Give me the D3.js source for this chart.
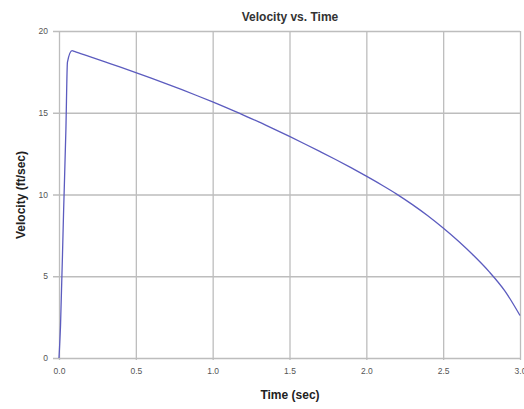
<!DOCTYPE html>
<html>
<head>
<meta charset="utf-8">
<script src="https://cdn.jsdelivr.net/npm/d3@7"></script>
<style>
  body { margin: 0; background: #fff; }
  svg text { font-family: "Liberation Sans", Arial, sans-serif; }
  .tick text { fill: #555; font-size: 8.5px; }
  .tick line { stroke: #bdbdbd; stroke-width: 1.3; }
</style>
</head>
<body>
<svg id="chart" width="524" height="409"></svg>
<script>
// time (sec) and velocity (ft/sec)
const times = [0, 0.01, 0.03, 0.045, 0.055, 0.085, 0.1, 0.2, 0.3, 0.4, 0.5, 0.6, 0.7, 0.8, 0.9, 1.0,
    1.1, 1.2, 1.3, 1.4, 1.5, 1.6, 1.7, 1.8, 1.9, 2.0, 2.1, 2.2, 2.3, 2.4, 2.5, 2.6, 2.7, 2.8, 2.9, 3.0];
const velocities = [0, 2, 9, 14, 18.1, 18.8, 18.75, 18.43, 18.11, 17.79, 17.46, 17.12, 16.77, 16.41, 16.04, 15.66,
    15.27, 14.86, 14.44, 14.0, 13.55, 13.09, 12.62, 12.14, 11.64, 11.12, 10.58, 10.01, 9.38, 8.7, 7.95, 7.14, 6.25, 5.27, 4.12, 2.6];
const xTicks = [0, 0.5, 1.0, 1.5, 2.0, 2.5, 3.0];
const yTicks = [0, 5, 10, 15, 20];

const data = times.map((t, i) => ({ t: t, v: velocities[i] }));

const svg = d3.select('#chart');
const width = +svg.attr('width');
const height = +svg.attr('height');
const margin = { top: 31, right: 3, bottom: 50, left: 59 };
const innerWidth = width - margin.left - margin.right;
const innerHeight = height - margin.top - margin.bottom;

const xScale = d3.scaleLinear()
    .domain([0, 3])
    .range([0, innerWidth - 1]);

const yScale = d3.scaleLinear()
    .domain([0, 20])
    .range([innerHeight - 1, 0]);

const g = svg.append('g')
    .attr('transform', `translate(${margin.left}, ${margin.top})`);

// grid + axes
const yAxisG = g.append('g')
    .call(d3.axisLeft(yScale)
        .tickValues(yTicks)
        .tickFormat(d3.format('d'))
        .tickSizeInner(-(innerWidth - 1))
        .tickSizeOuter(0)
        .tickPadding(11));
yAxisG.select('.domain').remove();
yAxisG.selectAll('.tick line').attr('x1', -6);

const xAxisG = g.append('g')
    .attr('transform', `translate(0, ${innerHeight - 1})`)
    .call(d3.axisBottom(xScale)
        .tickValues(xTicks)
        .tickFormat(d3.format('.1f'))
        .tickSizeInner(-(innerHeight - 1))
        .tickSizeOuter(0)
        .tickPadding(6));
xAxisG.select('.domain').remove();
xAxisG.selectAll('.tick line').attr('y1', 2);
xAxisG.selectAll('.tick text').attr('y', 10);

// velocity curve
const line = d3.line()
    .x(d => xScale(d.t))
    .y(d => yScale(d.v))
    .curve(d3.curveMonotoneX);

g.append('path')
    .datum(data)
    .attr('fill', 'none')
    .attr('stroke', '#5c5cbf')
    .attr('stroke-width', 1.3)
    .attr('d', line);

// titles
svg.append('text')
    .attr('x', margin.left + innerWidth / 2)
    .attr('y', 21)
    .attr('text-anchor', 'middle')
    .attr('font-size', '12px')
    .attr('font-weight', 'bold')
    .attr('fill', '#333')
    .text('Velocity vs. Time');

svg.append('text')
    .attr('x', margin.left + innerWidth / 2)
    .attr('y', 399)
    .attr('text-anchor', 'middle')
    .attr('font-size', '12px')
    .attr('font-weight', 'bold')
    .attr('fill', '#222')
    .text('Time (sec)');

svg.append('text')
    .attr('transform', `translate(25, ${margin.top + innerHeight / 2}) rotate(-90)`)
    .attr('text-anchor', 'middle')
    .attr('font-size', '12px')
    .attr('font-weight', 'bold')
    .attr('fill', '#222')
    .text('Velocity (ft/sec)');
</script>
</body>
</html>
